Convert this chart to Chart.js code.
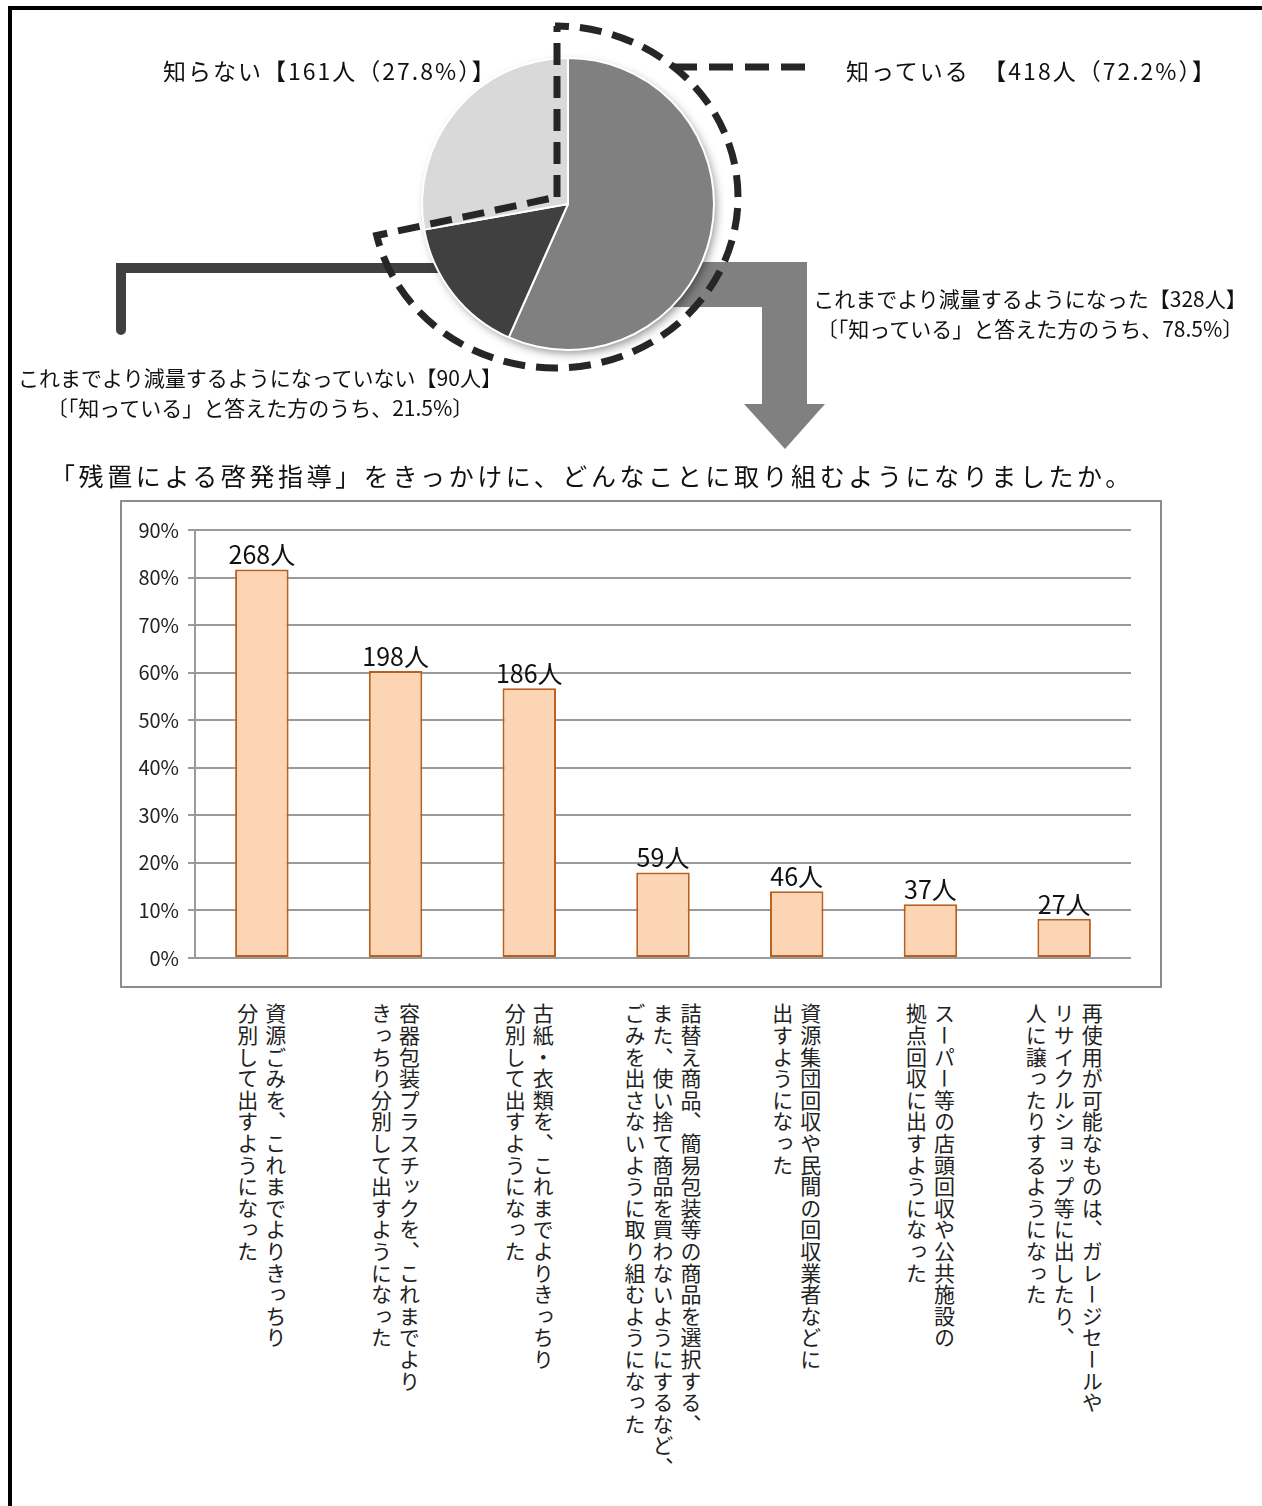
<!DOCTYPE html>
<html lang="ja">
<head>
<meta charset="utf-8">
<title>残置による啓発指導</title>
<script src="https://cdn.jsdelivr.net/npm/chart.js@4.4.1/dist/chart.umd.min.js"></script>
<style>
  html, body { margin: 0; padding: 0; background: #fff; }
  body {
    width: 1262px; height: 1506px; position: relative; overflow: hidden;
    font-family: "Noto Sans CJK JP", "Noto Sans", sans-serif; color: #111;
  }
  #frame {
    position: absolute; left: 8px; top: 6px; width: 1270px; height: 1520px;
    border-top: 4px solid #000; border-left: 4px solid #000; box-sizing: border-box;
  }
  #pieCanvas { position: absolute; left: 0; top: 0; }
  #barCanvas { position: absolute; left: 120px; top: 500px; }
  .note { position: absolute; font-size: 21px; line-height: 30px; white-space: pre; color: #111; }
  .note.big { font-size: 23px; letter-spacing: 2px; }
  .centered { text-align: center; transform: translateX(-50%); }
  #title {
    position: absolute; left: 50px; top: 457px; font-size: 25px; line-height: 36px;
    letter-spacing: 3.6px; white-space: nowrap; color: #111;
  }
  .vlabel {
    position: absolute; top: 1003px; writing-mode: vertical-rl;
    font-size: 21px; line-height: 28px; letter-spacing: 0.6px; white-space: pre; color: #222;
  }
</style>
</head>
<body>
<div id="frame"></div>
<canvas id="pieCanvas" width="1262" height="460"></canvas>
<div id="noteUnknown" class="note big" style="left:163px; top:55px;"></div>
<div id="noteKnown" class="note big" style="left:846px; top:55px;"></div>
<div id="noteReduced" class="note centered" style="left:1030px; top:283px;"></div>
<div id="noteNotReduced" class="note centered" style="left:260px; top:362px;"></div>
<div id="title"></div>
<canvas id="barCanvas" width="1042" height="488"></canvas>

<script>
// ---- Awareness survey (pie) ----
const pieLabels = ['これまでより減量するようになった', 'これまでより減量するようになっていない', '知らない'];
const pieCounts = [328, 90, 161];
const pieColors = ['#808080', '#404040', '#d9d9d9'];

// ---- Actions taken (bar) ----
const categories = [
  '資源ごみを、これまでよりきっちり\n分別して出すようになった',
  '容器包装プラスチックを、これまでより\nきっちり分別して出すようになった',
  '古紙・衣類を、これまでよりきっちり\n分別して出すようになった',
  '詰替え商品、簡易包装等の商品を選択する、\nまた、使い捨て商品を買わないようにするなど、\nごみを出さないように取り組むようになった',
  '資源集団回収や民間の回収業者などに\n出すようになった',
  'スーパー等の店頭回収や公共施設の\n拠点回収に出すようになった',
  '再使用が可能なものは、ガレージセールや\nリサイクルショップ等に出したり、\n人に譲ったりするようになった'
];
const actionCounts = [268, 198, 186, 59, 46, 37, 27];
const yMax = 90;
const yStep = 10;

const questionTitle = '「残置による啓発指導」をきっかけに、どんなことに取り組むようになりましたか。';

// derived figures
const knownTotal = pieCounts[0] + pieCounts[1];
const grandTotal = knownTotal + pieCounts[2];
const pct = (a, b) => (a / b * 100).toFixed(1);
const shares = actionCounts.map(c => c / pieCounts[0] * 100);

const FONT = '"Noto Sans CJK JP", "Noto Sans", sans-serif';

document.getElementById('noteUnknown').textContent =
  `${pieLabels[2]}【${pieCounts[2]}人（${pct(pieCounts[2], grandTotal)}%）】`;
document.getElementById('noteKnown').textContent =
  `知っている　【${knownTotal}人（${pct(knownTotal, grandTotal)}%）】`;
document.getElementById('noteReduced').textContent =
  `${pieLabels[0]}【${pieCounts[0]}人】\n〔「知っている」と答えた方のうち、${pct(pieCounts[0], knownTotal)}%〕`;
document.getElementById('noteNotReduced').textContent =
  `${pieLabels[1]}【${pieCounts[1]}人】\n〔「知っている」と答えた方のうち、${pct(pieCounts[1], knownTotal)}%〕`;
document.getElementById('title').textContent = questionTitle;

// arrows, connector, shadow and dashed outline around the pie
const pieDecor = {
  id: 'pieDecor',
  beforeDatasetsDraw(chart) {
    const arc = chart.getDatasetMeta(0).data[0];
    const cx = arc.x, cy = arc.y, r = arc.outerRadius;
    const ctx = chart.ctx;
    ctx.save();
    // bent block arrow leading down to the bar chart
    ctx.fillStyle = '#808080';
    ctx.beginPath();
    ctx.moveTo(cx + 60, cy + 58);
    ctx.lineTo(cx + 239, cy + 58);
    ctx.lineTo(cx + 239, cy + 200);
    ctx.lineTo(cx + 257, cy + 200);
    ctx.lineTo(cx + 217, cy + 245);
    ctx.lineTo(cx + 176, cy + 200);
    ctx.lineTo(cx + 194, cy + 200);
    ctx.lineTo(cx + 194, cy + 103);
    ctx.lineTo(cx + 60, cy + 103);
    ctx.closePath();
    ctx.fill();
    // elbow connector from the dark slice to its label
    ctx.strokeStyle = '#404040';
    ctx.lineWidth = 10;
    ctx.lineCap = 'round';
    ctx.lineJoin = 'miter';
    ctx.beginPath();
    ctx.moveTo(cx - 120, cy + 64);
    ctx.lineTo(cx - 447, cy + 64);
    ctx.lineTo(cx - 447, cy + 126);
    ctx.stroke();
    // soft drop shadow under the pie
    ctx.shadowColor = 'rgba(0,0,0,0.45)';
    ctx.shadowBlur = 10;
    ctx.shadowOffsetX = 3;
    ctx.shadowOffsetY = 4;
    ctx.fillStyle = '#ffffff';
    ctx.beginPath();
    ctx.arc(cx, cy, r - 1, 0, Math.PI * 2);
    ctx.fill();
    ctx.restore();
  },
  afterDatasetsDraw(chart) {
    const arc = chart.getDatasetMeta(0).data[0];
    const cx = arc.x, cy = arc.y;
    const ctx = chart.ctx;
    ctx.save();
    ctx.strokeStyle = '#262626';
    ctx.lineWidth = 7;
    ctx.lineCap = 'butt';
    ctx.lineJoin = 'miter';
    ctx.setLineDash([22, 11]);
    // outline of the "知っている" group
    ctx.beginPath();
    ctx.moveTo(cx - 11, cy - 7);
    ctx.lineTo(cx - 11, cy - 178);
    ctx.ellipse(cx - 13, cy - 7, 183, 171, 0, -Math.PI / 2, Math.PI * 167 / 180);
    ctx.closePath();
    ctx.stroke();
    // leader to the "知っている" label, dashes at both ends
    ctx.setLineDash([24, 12]);
    ctx.beginPath();
    ctx.moveTo(cx + 237, cy - 137);
    ctx.lineTo(cx + 105, cy - 137);
    ctx.stroke();
    ctx.restore();
  }
};

new Chart(document.getElementById('pieCanvas'), {
  type: 'pie',
  data: {
    labels: pieLabels,
    datasets: [{
      data: pieCounts,
      backgroundColor: pieColors,
      borderColor: '#ffffff',
      borderWidth: 2
    }]
  },
  options: {
    responsive: false,
    animation: false,
    events: [],
    layout: { padding: { left: 421, right: 547, top: 57, bottom: 109 } },
    plugins: { legend: { display: false }, tooltip: { enabled: false } }
  },
  plugins: [pieDecor]
});

// ---- bar chart ----
const chartFrame = {
  id: 'chartFrame',
  beforeDraw(chart) {
    const ctx = chart.ctx;
    ctx.save();
    ctx.fillStyle = '#ffffff';
    ctx.fillRect(0, 0, chart.width, chart.height);
    ctx.strokeStyle = '#8c8c8c';
    ctx.lineWidth = 2;
    ctx.strokeRect(1, 1, chart.width - 2, chart.height - 2);
    ctx.restore();
  }
};

const countLabels = {
  id: 'countLabels',
  afterDatasetsDraw(chart) {
    const ctx = chart.ctx;
    const meta = chart.getDatasetMeta(0);
    ctx.save();
    ctx.font = `25px ${FONT}`;
    ctx.fillStyle = '#111';
    ctx.textAlign = 'center';
    ctx.textBaseline = 'alphabetic';
    meta.data.forEach((bar, i) => {
      ctx.fillText(actionCounts[i] + '人', bar.x, bar.y - 5);
    });
    ctx.restore();
  }
};

const barChart = new Chart(document.getElementById('barCanvas'), {
  type: 'bar',
  data: {
    labels: categories,
    datasets: [{
      data: shares,
      backgroundColor: '#fcd5b5',
      borderColor: '#b9601f',
      borderWidth: 2,
      borderSkipped: false,
      barPercentage: 0.4,
      categoryPercentage: 1
    }]
  },
  options: {
    responsive: false,
    animation: false,
    events: [],
    layout: { padding: { top: 30, bottom: 30, left: 0, right: 31 } },
    plugins: { legend: { display: false }, tooltip: { enabled: false } },
    scales: {
      x: {
        ticks: { display: false },
        grid: { display: false },
        border: { display: false },
        afterFit(s) { s.height = 0; }
      },
      y: {
        min: 0,
        max: yMax,
        ticks: {
          stepSize: yStep,
          callback: v => v + '%',
          font: { size: 20, family: FONT },
          color: '#222',
          padding: 9
        },
        grid: { color: '#9a9a9a', lineWidth: 2, tickLength: 7 },
        border: { color: '#9a9a9a', width: 2 },
        afterFit(s) { s.width = 75; }
      }
    }
  },
  plugins: [chartFrame, countLabels]
});

// vertical category captions under each bar
const xScale = barChart.scales.x;
categories.forEach((text, i) => {
  const el = document.createElement('div');
  el.className = 'vlabel';
  el.textContent = text;
  document.body.appendChild(el);
  const center = 120 + xScale.getPixelForValue(i);
  el.style.left = (center - el.offsetWidth / 2) + 'px';
});
</script>
</body>
</html>
